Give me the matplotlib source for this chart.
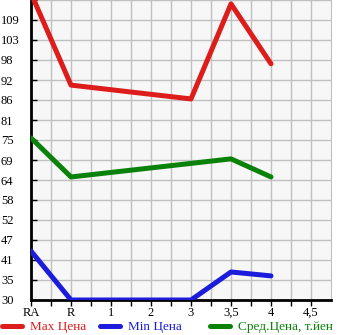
import matplotlib.pyplot as plt
import numpy as np

# категории по оси X и значения
cats = ['RA', 'R', '1', '2', '3', '3,5', '4', '4,5']
max_price = [116.5, 90.6, np.nan, np.nan, 86.7, 113.5, 96.6, np.nan]
min_price = [43.8, 30.0, 30.0, 30.0, 30.0, 37.9, 36.8, np.nan]
avg_price = [75.7, 64.7, np.nan, np.nan, np.nan, 69.8, 64.7, np.nan]
ylabels = ['30', '35', '41', '47', '52', '58', '64', '69', '75', '81', '86', '92', '98', '103', '109']

ymin = 30.0
ystep = 5.64

plt.rcParams['font.family'] = ['Liberation Serif', 'DejaVu Serif']

fig = plt.figure(figsize=(3.45, 3.35), dpi=100)
ax = fig.add_axes([31/345, 35/335, 300/345, 300/335])
ax.set_facecolor('#f7f7f7')

x = np.arange(len(cats))

def draw(vals, col, lab):
    v = np.array(vals, dtype=float)
    m = ~np.isnan(v)
    ln, = ax.plot(x[m], v[m], color=col, lw=3.6, solid_capstyle='round',
                  solid_joinstyle='round', label=lab, clip_on=True, zorder=3)
    return ln

lines = [draw(max_price, '#dd1c1c', 'Max Цена'),
         draw(min_price, '#1c1cdd', 'Min Цена'),
         draw(avg_price, '#0a820a', 'Сред.Цена, т.йен')]

ax.set_xlim(0, 7.5)
ax.set_ylim(ymin, ymin + 15*ystep)
ax.set_xticks(x)
ax.set_xticklabels(cats)
ax.set_xticks(np.arange(0.5, 7.5, 1.0), minor=True)
ax.set_yticks([ymin + i*ystep for i in range(15)])
ax.set_yticklabels(ylabels)
ax.set_yticks([ymin + i*ystep for i in range(16)], minor=True)
ax.grid(True, which='both', color='#c0c0c0', lw=1)
ax.set_axisbelow(True)
ax.tick_params(axis='both', which='both', length=4, width=1, labelsize=9, pad=1)
# подписи оси Y выровнены по левому краю
ax.tick_params(axis='y', which='both', direction='in', pad=21.6)
for t in ax.get_yticklabels():
    t.set_horizontalalignment('left')

ax.spines['top'].set_visible(False)
ax.spines['right'].set_color('#c0c0c0')
ax.spines['left'].set_linewidth(2)
ax.spines['bottom'].set_linewidth(2)

# легенда: три отдельных элемента, как в оригинале
for ln, xp in zip(lines, [2, 100, 210]):
    leg = fig.legend(handles=[ln], loc='center left', bbox_to_anchor=(xp/345, 1 - 327/335),
                     borderaxespad=0, borderpad=0, frameon=False, fontsize=9.5,
                     handlelength=1.5, handletextpad=0.6, labelcolor='linecolor')

fig.savefig('out.png', dpi=100)
